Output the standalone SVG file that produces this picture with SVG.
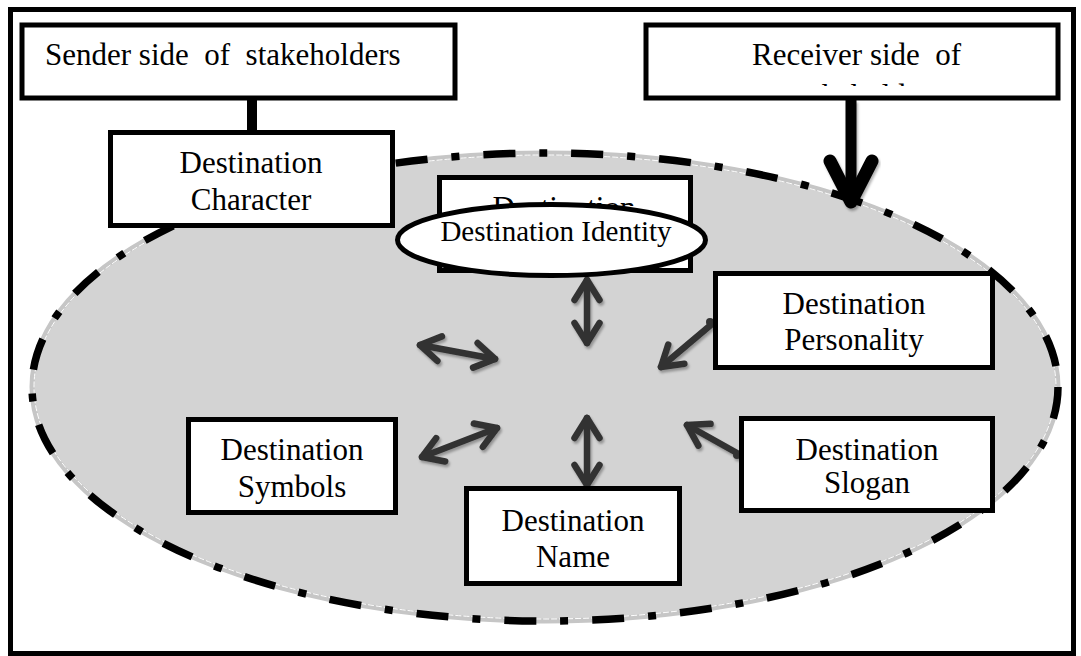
<svg xmlns="http://www.w3.org/2000/svg" width="1081" height="656" viewBox="0 0 1081 656">
<style>
.box{fill:#fff;stroke:#000;stroke-width:5}
.t{font-family:"Liberation Serif","Times New Roman",serif;font-size:31px;fill:#000;text-anchor:middle}
.ts{font-family:"Liberation Serif","Times New Roman",serif;font-size:31px;fill:#000}
.arr{fill:none;stroke:#333;stroke-width:6.5;stroke-linecap:round}
</style>
<defs>
<marker id="ah" viewBox="-26 -18 32 36" refX="0" refY="0" markerWidth="32" markerHeight="36" markerUnits="userSpaceOnUse" orient="auto-start-reverse">
<path d="M-20,-12.5 L0,0 L-20,12.5" fill="none" stroke="#333" stroke-width="6.5" stroke-linecap="round" stroke-linejoin="round"/>
</marker>
<filter id="sh" x="-20%" y="-20%" width="140%" height="140%">
<feDropShadow dx="1.5" dy="2.5" stdDeviation="0.8" flood-color="#000" flood-opacity="0.3"/>
</filter>
<clipPath id="rc"><rect x="650" y="70" width="405" height="16"/></clipPath>
<clipPath id="hc"><rect x="440" y="180" width="250" height="26"/></clipPath>
</defs>
<rect width="1081" height="656" fill="#fff"/>
<g id="frame"><rect x="10.5" y="9.5" width="1063" height="644" fill="none" stroke="#000" stroke-width="5"/></g>
<g id="destination-area">
<ellipse cx="545" cy="387" rx="513" ry="234" fill="#d3d3d3" stroke="#c6c6c6" stroke-width="5"/>
<ellipse cx="545" cy="387" rx="511" ry="232" fill="none" stroke="#fff" stroke-width="1" stroke-dasharray="6 2"/>
<ellipse cx="545" cy="387" rx="513" ry="234" fill="none" stroke="#000" stroke-width="7.5" stroke-dasharray="32 24 8 24"/>
</g>
<g id="connectors">
<line x1="252" y1="99" x2="252" y2="131" stroke="#000" stroke-width="10"/>
<g filter="url(#sh)">
<line x1="851" y1="100" x2="851" y2="200" stroke="#000" stroke-width="11"/>
<path d="M830,161 L851,202 L872,161" fill="none" stroke="#000" stroke-width="13" stroke-linecap="round" stroke-linejoin="round"/>
</g>
<g filter="url(#sh)">
<line class="arr" x1="587" y1="280" x2="587" y2="343" marker-start="url(#ah)" marker-end="url(#ah)"/>
<line class="arr" x1="587" y1="418" x2="587" y2="485" marker-start="url(#ah)" marker-end="url(#ah)"/>
<line class="arr" x1="420" y1="345" x2="495" y2="359" marker-start="url(#ah)" marker-end="url(#ah)"/>
<line class="arr" x1="422" y1="457" x2="497" y2="428" marker-start="url(#ah)" marker-end="url(#ah)"/>
<line class="arr" x1="712" y1="324" x2="661" y2="367" marker-end="url(#ah)"/>
<circle cx="710" cy="322" r="4" fill="#333"/>
<line class="arr" x1="737" y1="453" x2="687" y2="425" marker-end="url(#ah)"/>
<circle cx="737" cy="455" r="4" fill="#333"/>
</g>
</g>
<g id="node-sender">
<rect class="box" x="22" y="25" width="433" height="73"/>
<text class="ts" x="45" y="65" xml:space="preserve">Sender side  of  stakeholders</text>
</g>
<g id="node-receiver">
<rect class="box" x="646" y="25" width="412" height="73"/>
<text class="ts" x="752" y="65" xml:space="preserve">Receiver side  of</text>
<text class="ts" x="787" y="106" clip-path="url(#rc)">stakeholders</text>
</g>
<g id="node-character">
<rect class="box" x="110.5" y="132.5" width="282" height="93"/>
<text class="t" x="251" y="173">Destination</text>
<text class="t" x="251" y="210">Character</text>
</g>
<g id="node-hidden">
<rect class="box" x="439.5" y="177.5" width="251" height="93"/>
<text class="t" x="564" y="217.5" clip-path="url(#hc)">Destination</text>
</g>
<g id="node-identity">
<ellipse cx="551.5" cy="240" rx="154" ry="35.5" fill="#fff" stroke="#000" stroke-width="5"/>
<text class="t" x="556" y="241" style="font-size:29px">Destination Identity</text>
</g>
<g id="node-personality">
<rect class="box" x="715.5" y="273.5" width="277" height="94"/>
<text class="t" x="854" y="314">Destination</text>
<text class="t" x="854" y="350">Personality</text>
</g>
<g id="node-slogan">
<rect class="box" x="741.5" y="418.5" width="251" height="92"/>
<text class="t" x="867" y="460">Destination</text>
<text class="t" x="867" y="493">Slogan</text>
</g>
<g id="node-name">
<rect class="box" x="466.5" y="488.5" width="213" height="95"/>
<text class="t" x="573" y="531">Destination</text>
<text class="t" x="573" y="567">Name</text>
</g>
<g id="node-symbols">
<rect class="box" x="188.5" y="419.5" width="207" height="93"/>
<text class="t" x="292" y="460">Destination</text>
<text class="t" x="292" y="497">Symbols</text>
</g>
</svg>
